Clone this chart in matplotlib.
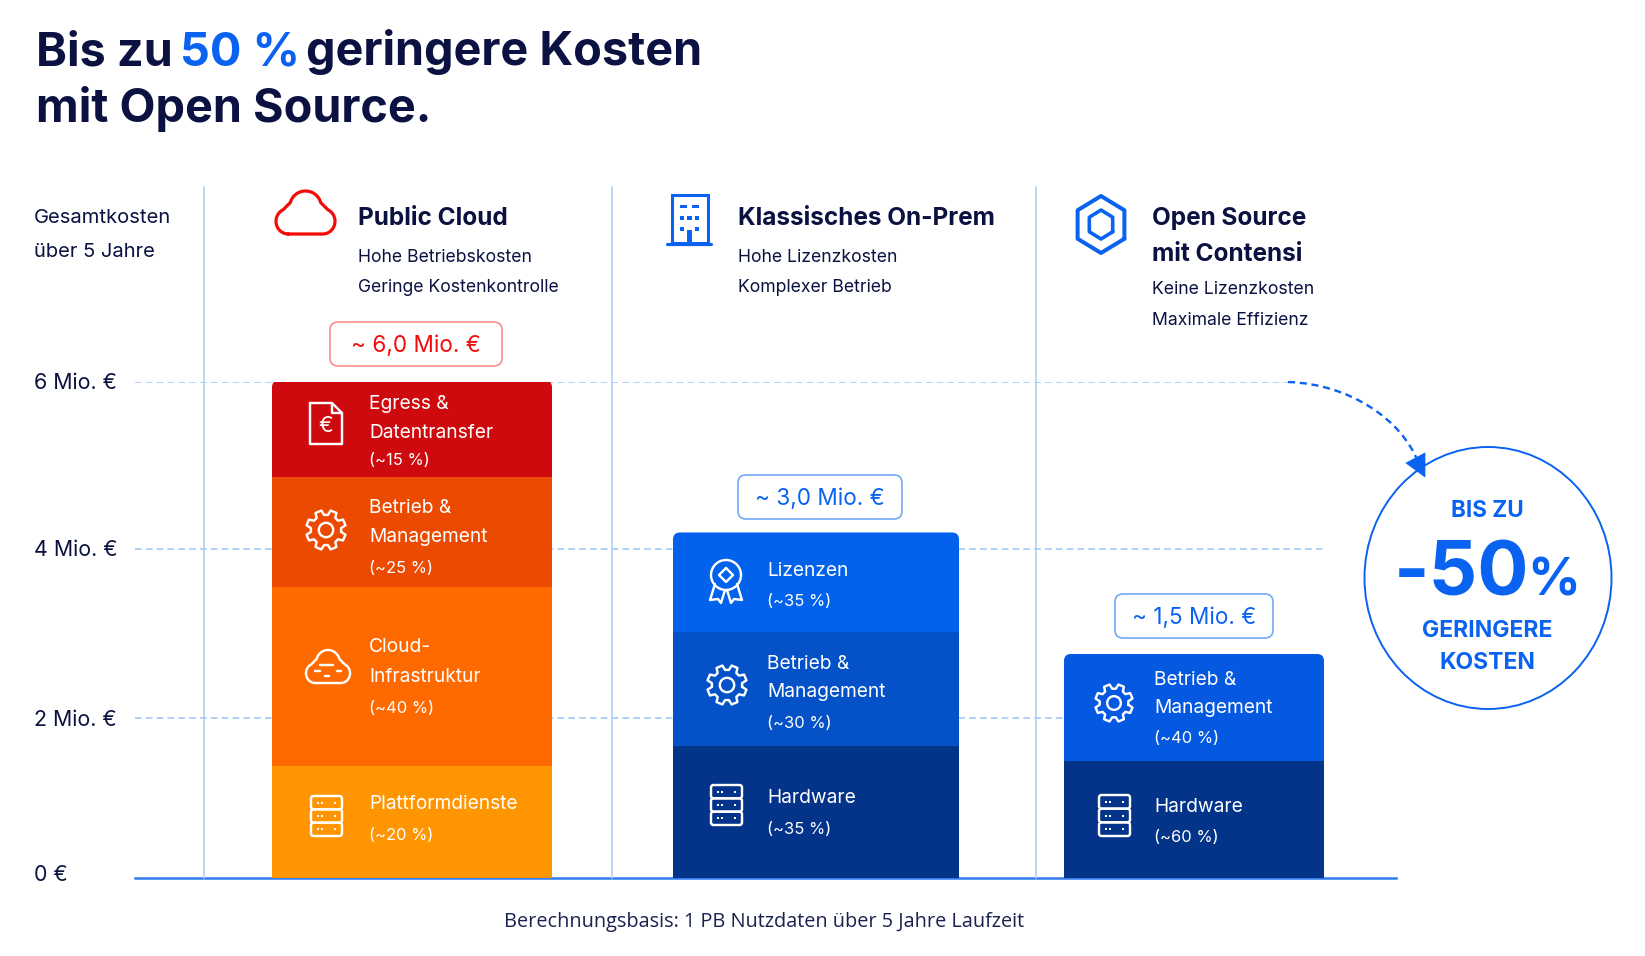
import numpy as np
import matplotlib
matplotlib.use("Agg")
import matplotlib.pyplot as plt
from matplotlib.patches import FancyBboxPatch, Polygon, Ellipse, Circle, PathPatch, Rectangle
from matplotlib.path import Path

# --- Daten (Segmenthoehen in Achseneinheiten, von unten nach oben) ---
tick_labels = ["0 €", "2 Mio. €", "4 Mio. €", "6 Mio. €"]
tick_values = [0, 1.93, 3.98, 6]

cloud_values = [1.355, 2.17, 1.33, 1.165]
cloud_pct = ["(~20 %)", "(~40 %)", "(~25 %)", "(~15 %)"]
onprem_values = [1.60, 1.37, 1.21]
onprem_pct = ["(~35 %)", "(~30 %)", "(~35 %)"]
contensi_values = [1.415, 1.295]
contensi_pct = ["(~60 %)", "(~40 %)"]

totals = ["~ 6,0 Mio. €", "~ 3,0 Mio. €", "~ 1,5 Mio. €"]

# --- Farben ---
NAVY = "#0B1140"
BLUE = "#0A62F0"
RED = "#F50A0A"
GRID = "#A3C9FA"
VLINE = "#A9CCFA"
cloud_colors = ["#FF9500", "#FF6A00", "#EC4A00", "#CF0A0E"]
onprem_colors = ["#03348A", "#0552C8", "#0362EC"]
contensi_colors = ["#03348A", "#0558E0"]

W, H = 1645, 956
Y0, Y6 = 878, 382  # Pixelzeilen von 0 und 6 Mio.
X0, X1 = 135, 1396
FONT = "Inter"

fig = plt.figure(figsize=(W / 100, H / 100), dpi=100, facecolor="white")

# Diagrammachse: x in Pixeln, y in Mio.
ax = fig.add_axes([X0 / W, (H - Y0) / H, (X1 - X0) / W, (Y0 - Y6) / H])
ax.set_xlim(X0, X1)
ax.set_ylim(0, 6)
ax.patch.set_visible(False)
for s in ["top", "left", "right"]:
    ax.spines[s].set_visible(False)
ax.spines["bottom"].set_color("#2E7BF0")
ax.spines["bottom"].set_linewidth(1.8)
ax.spines["bottom"].set_zorder(1)
ax.set_xticks([])
ax.set_yticks([])

# Ebene fuer Texte und Icons, in Bildpixeln
px = fig.add_axes([0, 0, 1, 1])
px.set_xlim(0, W)
px.set_ylim(H, 0)
px.axis("off")


def txt(x, y, s, size, color=NAVY, weight="normal", ha="left", family=FONT):
    return px.text(x, y, s, fontsize=size * 0.72, color=color, fontweight=weight, ha=ha,
                   va="baseline", family=family)


def line(points, color="white", lw=2.4, close=False):
    points = np.array(points, dtype=float)
    if close:
        points = np.vstack([points, points[0]])
    px.plot(points[:, 0], points[:, 1], color=color, lw=lw * 0.72,
            solid_capstyle="round", solid_joinstyle="round")


def rrect(x0, y0, x1, y1, r=3, color="white", lw=2.4, face="none"):
    p = FancyBboxPatch((x0, y0), x1 - x0, y1 - y0, boxstyle="round,pad=0,rounding_size=%g" % r,
                       fc=face, ec=color, lw=lw * 0.72)
    px.add_patch(p)
    return p


def arc(cx, cy, rx, ry, a0, a1, n=30):
    a = np.radians(np.linspace(a0, a1, n))
    return np.column_stack([cx + rx * np.cos(a), cy - ry * np.sin(a)])


def cloud_icon(x0, y0, x1, y1, color="white", lw=2.4):
    sx, sy = (x1 - x0) / 60, (y1 - y0) / 44
    pts = np.vstack([
        arc(12.5, 31, 12.5, 13, 270, 115),
        arc(30, 16, 16, 16, 165, 15),
        arc(47.5, 31, 12.5, 13, 65, -90),
    ])
    pts = pts * [sx, sy] + [x0, y0]
    line(pts, color=color, lw=lw, close=True)


def gear_icon(cx, cy, r=20, color="white", lw=2.4, teeth=8):
    a = []
    step = 360 / teeth
    for i in range(teeth):
        c = i * step + step / 2
        a += [(c - 0.34 * step, 0.76), (c - 0.2 * step, 1.0), (c + 0.2 * step, 1.0), (c + 0.34 * step, 0.76)]
    ang = np.radians([q[0] for q in a])
    rad = np.array([q[1] for q in a]) * r
    line(np.column_stack([cx + rad * np.cos(ang), cy + rad * np.sin(ang)]), color=color, lw=lw, close=True)
    px.add_patch(Circle((cx, cy), r * 0.36, fc="none", ec=color, lw=lw * 0.72))


def server_icon(x0, y0, x1, y1, color="white", lw=2.4):
    h = (y1 - y0) / 3
    for i in range(3):
        a, b = y0 + i * h, y0 + (i + 1) * h
        rrect(x0, a, x1, b, r=2.5, color=color, lw=lw)
        m = (a + b) / 2
        px.plot([x0 + 7, x0 + 11, x1 - 7], [m, m, m], ls="none", marker="s", ms=2.0, color=color, mew=0)


def doc_icon(x0, y0, x1, y1, color="white", lw=2.4):
    f = 10
    line([(x0, y0), (x1 - f, y0), (x1, y0 + f), (x1, y1), (x0, y1)], color=color, lw=lw, close=True)
    line([(x1 - f, y0), (x1 - f, y0 + f), (x1, y0 + f)], color=color, lw=lw)
    txt((x0 + x1) / 2, (y0 + y1) / 2 + 8, "€", 22, color=color, ha="center")


def ribbon_icon(cx, cy, color="white", lw=2.4):
    px.add_patch(Circle((cx, cy), 15, fc="none", ec=color, lw=lw * 0.72))
    line([(cx, cy - 7), (cx + 7, cy), (cx, cy + 7), (cx - 7, cy)], color=color, lw=lw, close=True)
    line([(cx - 11, cy + 9), (cx - 16, cy + 25), (cx - 8, cy + 24), (cx - 5, cy + 28), (cx - 1, cy + 15)], color=color, lw=lw)
    line([(cx + 11, cy + 9), (cx + 16, cy + 25), (cx + 8, cy + 24), (cx + 5, cy + 28), (cx + 1, cy + 15)], color=color, lw=lw)


def stacked(x0, x1, values, colors):
    clip = FancyBboxPatch((x0, Y0 - sum(values) * (Y0 - Y6) / 6), x1 - x0, sum(values) * (Y0 - Y6) / 6 + 20,
                          boxstyle="round,pad=0,rounding_size=7", transform=px.transData)
    bottom = 0
    for v, c in zip(values, colors):
        b = ax.bar((x0 + x1) / 2, v, width=x1 - x0, bottom=bottom, color=c, lw=0, zorder=3)
        b[0].set_clip_path(clip)
        bottom += v


# Gitterlinien und Saeulen
ax.hlines(tick_values[3], X0, 1288, color=GRID, lw=1.2, ls=(0, (4, 2.5)), zorder=1)
ax.hlines(tick_values[2], X0, 1324, color=GRID, lw=1.2, ls=(0, (4, 2.5)), zorder=1)
ax.hlines(tick_values[1], X0, 1064, color=GRID, lw=1.2, ls=(0, (4, 2.5)), zorder=1)
stacked(272, 552, cloud_values, cloud_colors)
stacked(673, 959, onprem_values, onprem_colors)
stacked(1064, 1324, contensi_values, contensi_colors)

for x in [204, 612, 1036]:
    px.plot([x, x], [187, Y0], color=VLINE, lw=1.1, zorder=0)

# Titel
TITLE = 46.8
txt(36, 65, "Bis zu", TITLE, weight="bold")
txt(180, 65, "50 %", TITLE, color=BLUE, weight="bold")
txt(306, 65, "geringere Kosten", TITLE, weight="bold")
txt(36, 122, "mit Open Source.", TITLE, weight="bold")

# Achsenbeschriftung
txt(33.5, 223, "Gesamtkosten", 20.2)
txt(33.5, 257, "über 5 Jahre", 20.2)
for y, s in zip([881, 726, 556, 389], tick_labels):
    txt(33.5, y, s, 21.4)

# Spaltenkoepfe
HEAD, SUB = 24.4, 17.6
txt(358, 225, "Public Cloud", HEAD, weight="bold")
txt(358, 262, "Hohe Betriebskosten", SUB)
txt(358, 292, "Geringe Kostenkontrolle", SUB)
txt(738, 225, "Klassisches On-Prem", HEAD, weight="bold")
txt(738, 262, "Hohe Lizenzkosten", SUB)
txt(738, 292, "Komplexer Betrieb", SUB)
txt(1152, 225, "Open Source", HEAD, weight="bold")
txt(1152, 261, "mit Contensi", HEAD, weight="bold")
txt(1152, 294, "Keine Lizenzkosten", SUB)
txt(1152, 325, "Maximale Effizienz", SUB)

# Kopf-Icons
cloud_icon(276, 191, 335, 234, color=RED, lw=3.2)
px.add_patch(Rectangle((672, 195), 36, 48, fc="none", ec=BLUE, lw=2.2))
line([(667, 243.5), (711, 243.5)], color=BLUE, lw=3.2)
for y, xs in [(206.5, [(679.5, 686.5), (692, 699)]),
              (218, [(679.5, 684), (687, 691.5), (694.5, 699)]),
              (229, [(679.5, 684), (694.5, 699)])]:
    for a, b in xs:
        px.add_patch(Rectangle((a, y - 1.8), b - a, 3.6, fc=BLUE, ec="none"))
px.add_patch(Rectangle((686.7, 230), 5, 13, fc=BLUE, ec="none"))
hx = 1101
a = np.radians(np.arange(30, 390, 60))
line(np.column_stack([hx + 27 * np.cos(a), 224.5 + 28.5 * np.sin(a)]), color=BLUE, lw=4, close=True)
line(np.column_stack([hx + 13.5 * np.cos(a), 224.5 + 14.5 * np.sin(a)]), color=BLUE, lw=3.6, close=True)

# Summen-Badges
for (x0, x1, y0, y1, c, ec), s in zip([(330, 502, 322, 366, RED, "#FB8A86"),
                                       (738, 902, 475, 519, BLUE, "#6FA5F5"),
                                       (1115, 1273, 594, 638, BLUE, "#6FA5F5")], totals):
    rrect(x0, y0, x1, y1, r=8, color=ec, lw=1.6, face="white")
    txt((x0 + x1) / 2, (y0 + y1) / 2 + 8, s, 22.5, color=c, ha="center")

# Segmenttexte
SEG, PCT = 19.2, 16.6
for y, s in [(409, "Egress &"), (438, "Datentransfer"), (465, cloud_pct[3]),
             (513, "Betrieb &"), (542, "Management"), (573, cloud_pct[2]),
             (652, "Cloud-"), (682, "Infrastruktur"), (713, cloud_pct[1]),
             (809, "Plattformdienste"), (840, cloud_pct[0])]:
    txt(369, y, s, PCT if s.startswith("(") else SEG, color="white")
for y, s in [(576, "Lizenzen"), (606, onprem_pct[2]),
             (669, "Betrieb &"), (697, "Management"), (728, onprem_pct[1]),
             (803, "Hardware"), (834, onprem_pct[0])]:
    txt(767, y, s, PCT if s.startswith("(") else SEG, color="white")
for y, s in [(685, "Betrieb &"), (713, "Management"), (743, contensi_pct[1]),
             (812, "Hardware"), (842, contensi_pct[0])]:
    txt(1154, y, s, PCT if s.startswith("(") else SEG, color="white")

# Segment-Icons
doc_icon(310, 403, 342, 444)
gear_icon(326, 530)
cloud_icon(306, 650, 350, 683)
line([(320, 665), (333, 665)])
line([(315, 671), (320, 671)])
line([(337, 671), (341, 671)])
line([(325, 676), (329, 676)])
server_icon(311, 796, 342, 836)
ribbon_icon(726, 575)
gear_icon(727, 685)
server_icon(711, 785, 742, 825)
gear_icon(1114, 703, r=19)
server_icon(1099, 795, 1130, 836)

# Pfeil und Kreis
arrow = Path([(1288, 382), (1350, 384), (1402, 420), (1418, 462)],
             [Path.MOVETO, Path.CURVE4, Path.CURVE4, Path.CURVE4])
px.add_patch(PathPatch(arrow, fc="none", ec=BLUE, lw=1.7, ls=(0, (3, 2))))
px.add_patch(Ellipse((1488, 578), 247, 262, fc="none", ec=BLUE, lw=1.4))
px.add_patch(Polygon([(1406, 463), (1425, 453), (1425, 477)], fc=BLUE, ec=BLUE, lw=0.5))

txt(1487, 517, "BIS ZU", 22.5, color=BLUE, weight="bold", ha="center")
txt(1394, 596, "-50", 76, color=BLUE, weight="bold")
txt(1527, 596, "%", 52, color=BLUE, weight="bold")
txt(1487, 637, "GERINGERE", 23, color=BLUE, weight="bold", ha="center")
txt(1487, 669, "KOSTEN", 23, color=BLUE, weight="bold", ha="center")

# Fussnote
txt(504, 927, "Berechnungsbasis: 1 PB Nutzdaten über 5 Jahre Laufzeit", 19.85, color="#1B2250", family="Open Sans")

fig.savefig("out.png", dpi=100)
